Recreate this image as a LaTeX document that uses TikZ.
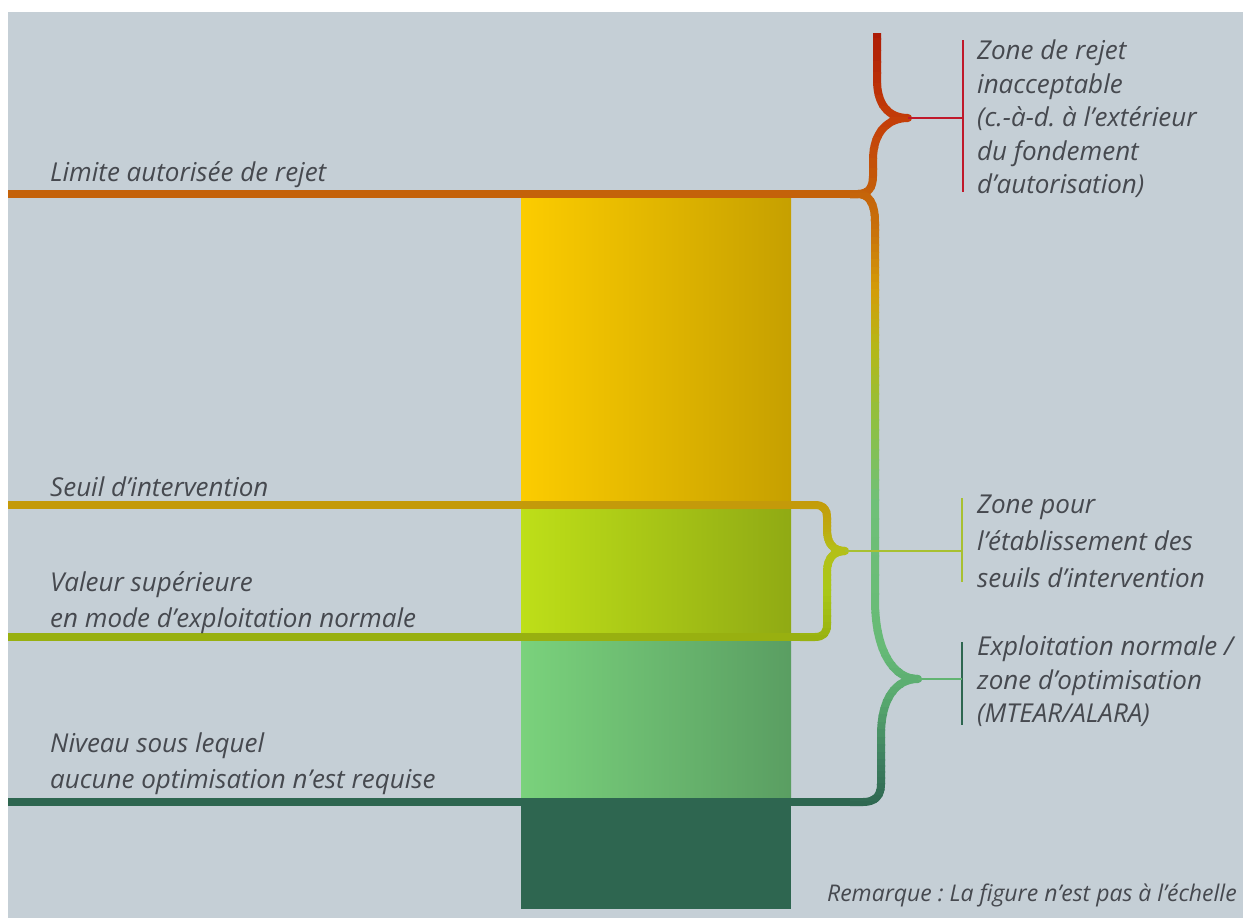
\documentclass[tikz,border=0pt]{standalone}
\usepackage{fontspec}
\setmainfont{Open Sans}
\frenchspacing
\usetikzlibrary{positioning}
\definecolor{bgcol}{HTML}{C5CFD6}
\definecolor{txtcol}{HTML}{46494F}
\definecolor{limcol}{HTML}{C4620A}
\definecolor{seuilcol}{HTML}{C49A0A}
\definecolor{valcol}{HTML}{98B010}
\definecolor{nivcol}{HTML}{2E6650}
\definecolor{rejcol}{HTML}{C0182A}
\definecolor{zscol}{HTML}{A8C030}
\definecolor{exlcol}{HTML}{62B472}
% column colours
\definecolor{yelL}{HTML}{FCCC00}
\definecolor{yelR}{HTML}{C6A000}
\definecolor{ygL}{HTML}{BEDF18}
\definecolor{ygR}{HTML}{90AA14}
\definecolor{lgL}{HTML}{7AD27C}
\definecolor{lgR}{HTML}{5A9E62}
% brace colours, top to bottom
\definecolor{gA}{HTML}{C4620A}
\definecolor{gB}{HTML}{C8700A}
\definecolor{gC}{HTML}{D49C08}
\definecolor{gD}{HTML}{B4B818}
\definecolor{gE}{HTML}{90C040}
\definecolor{gF}{HTML}{70C078}
\definecolor{gG}{HTML}{66BA76}
\definecolor{gH}{HTML}{58A86E}
\definecolor{gI}{HTML}{3E8060}
\definecolor{gJ}{HTML}{2E6650}
\definecolor{rA}{HTML}{AC1A06}
\definecolor{rB}{HTML}{C43C08}
\definecolor{sA}{HTML}{C49A0A}
\definecolor{sB}{HTML}{BEAA10}
\definecolor{sC}{HTML}{B4C018}
\definecolor{sD}{HTML}{AAC818}
\definecolor{sE}{HTML}{98B010}
% stroke #1 in horizontal strips, colours from #2 (y1/c1/y2/c2)
\newcommand\gradstroke[2]{%
  \foreach \ya/\ca/\yb/\cb in {#2}{
    \foreach \k in {0,...,7}{
      \pgfmathsetmacro\ys{\ya+(\yb-\ya)*\k/8}
      \pgfmathsetmacro\ye{\ya+(\yb-\ya)*(\k+1)/8}
      \pgfmathtruncatemacro\pc{(\k+0.5)*100/8}
      \begin{scope}
        \clip (790,\ys-0.4) rectangle (960,\ye+0.4);
        \draw[brace, draw=\cb!\pc!\ca] #1;
      \end{scope}
    }
  }}

\begin{document}
\begin{tikzpicture}[x=1bp, y=-1bp,
lbl/.style={font=\itshape\fontsize{26bp}{36bp}\selectfont, text=txtcol,
  inner sep=0pt, align=left},
rlbl/.style={lbl, font=\itshape\fontsize{26bp}{33.5bp}\selectfont},
hline/.style={line width=8bp},
brace/.style={line width=8bp, line join=round},
tagbar/.style={line width=2.5bp},
tagline/.style={line width=1.8bp}]
\useasboundingbox (0,0) rectangle (1243,918);
\fill[white] (0,0) rectangle (1243,918);
\fill[bgcol] (8,12) rectangle (1243,918);

% the column
\shade[left color=yelL, right color=yelR] (521,198) rectangle (791,502);
\shade[left color=ygL, right color=ygR] (521,508) rectangle (791,634);
\shade[left color=lgL, right color=lgR] (521,640) rectangle (791,799);
\fill[nivcol] (521,799) rectangle (791,909);

% levels
\coordinate (limR) at (852,194);
\coordinate (seuilR) at (802,505);
\coordinate (valR) at (802,637);
\coordinate (nivR) at (852,802);
\draw[hline, limcol] (8,194) -- (limR);
\draw[hline, seuilcol] (8,505) -- (seuilR);
\draw[hline, valcol] (8,637) -- (valR);
\draw[hline, nivcol] (8,802) -- (nivR);

% braces
\gradstroke{(850,194) -- (858,194) .. controls (868,194) and (873,188) .. (873,176) -- (873,160) .. controls (873,132) and (888,118) .. (908,118) .. controls (888,118) and (877,104) .. (877,80) -- (877,33)}
  {28/rA/118/rB, 118/rB/199/gA}
\gradstroke{(850,194) -- (858,194) .. controls (868,194) and (875,202) .. (875,222) -- (875,600) .. controls (875,650) and (893,679) .. (918,679) .. controls (895,679) and (881,700) .. (881,735) -- (881,784) .. controls (881,796) and (875,802) .. (863,802) -- (850,802)}
  {189/gA/230/gB, 230/gB/290/gC, 290/gC/350/gD, 350/gD/420/gE, 420/gE/500/gF, 500/gF/650/gG, 650/gG/700/gH, 700/gH/760/gI, 760/gI/808/gJ}
\gradstroke{(800,505) -- (815,505) .. controls (823,505) and (827,509) .. (827,517) -- (827,530) .. controls (827,544) and (834,551) .. (845,551) .. controls (834,551) and (827,558) .. (827,572) -- (827,625) .. controls (827,633) and (823,637) .. (815,637) -- (800,637)}
  {500/sA/530/sB, 530/sB/551/sC, 551/sC/590/sD, 590/sD/642/sE}
\coordinate (tipR) at (908,118);
\coordinate (tipZ) at (845,551);
\coordinate (tipE) at (918,679);

% left texts
\node[lbl, anchor=base west] (lim) at (50,181) {Limite autorisée de rejet};
\node[lbl, anchor=base west] (seuil) at (50,496) {Seuil d’intervention};
\node[lbl, anchor=north west] (valeur) at (50,571) {Valeur supérieure\\en mode d’exploitation normale};
\node[lbl, anchor=north west] (niveau) at (50,733) {Niveau sous lequel\\aucune optimisation n’est requise};

% right texts
\node[rlbl, anchor=north west] (rejet) at (977,40) {Zone de rejet\\inacceptable\\(c.-à-d. à l’extérieur\\du fondement\\d’autorisation)};
\node[rlbl, anchor=north west, font=\itshape\fontsize{26bp}{37bp}\selectfont] (zoneseuil) at (977,495) {Zone pour\\l’établissement des\\seuils d’intervention};
\node[rlbl, anchor=north west] (exploit) at (977,636) {Exploitation normale /\\zone d’optimisation\\(MTEAR/ALARA)};
\node[lbl, anchor=base east, font=\itshape\fontsize{23bp}{25bp}\selectfont] (remarque) at (1237,901) {Remarque : La figure n’est pas à l’échelle};

% tags
\draw[tagbar, rejcol] ([shift={(-14,0)}]rejet.north west) -- ([shift={(-14,-6)}]rejet.south west);
\draw[tagline, rejcol] (tipR) -- ([xshift=-14bp]tipR -| rejet.west);
\draw[tagbar, zscol] ([shift={(-15,3)}]zoneseuil.north west) -- ([shift={(-15,-6)}]zoneseuil.south west);
\draw[tagline, zscol] (tipZ) -- ([xshift=-15bp]tipZ -| zoneseuil.west);
\draw[tagbar, nivcol] ([shift={(-15,6)}]exploit.north west) -- ([shift={(-15,-2)}]exploit.south west);
\draw[tagline, exlcol] (tipE) -- ([xshift=-15bp]tipE -| exploit.west);
\end{tikzpicture}
\end{document}
